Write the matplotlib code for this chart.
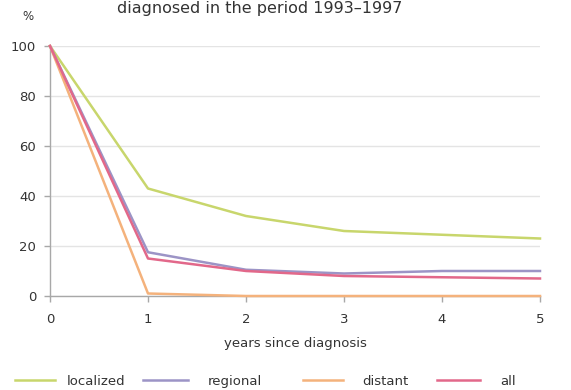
import matplotlib.pyplot as plt
from matplotlib.lines import Line2D

plt.rcParams['font.family'] = ['DejaVu Sans']

years = [0, 1, 2, 3, 4, 5]
localized = [100, 43, 32, 26, 24.5, 23]
regional = [100, 17.5, 10.5, 9, 10, 10]
distant = [100, 1, 0, 0, 0, 0]
all_stages = [100, 15, 10, 8, 7.5, 7]

series = [
    ("localized", localized, "#c8d66c"),
    ("regional", regional, "#9c94c6"),
    ("distant", distant, "#f4b27c"),
    ("all", all_stages, "#e2688a"),
]
# legend layout in pixels: line start, line end, text start
legend_pos = [(15, 55, 67), (143, 188, 208), (303, 343, 362), (437, 480, 500)]

W, H = 571, 390
fig = plt.figure(figsize=(W / 100, H / 100), dpi=100)
ax = fig.add_axes([50 / W, 1 - 296 / H, 490 / W, 250 / H])

for name, vals, col in series:
    ax.plot(years, vals, color=col, lw=1.8, clip_on=False, zorder=3)

ax.set_xlim(0, 5)
ax.set_ylim(0, 100)
ax.set_yticks([0, 20, 40, 60, 80, 100])
ax.set_xticks(years)
ax.grid(axis='y', color='#e4e4e4', lw=1)
ax.set_axisbelow(True)

for s in ['top', 'right']:
    ax.spines[s].set_visible(False)
for s in ['left', 'bottom']:
    ax.spines[s].set_color('#a8a8a8')
    ax.spines[s].set_linewidth(1)

ax.tick_params(axis='both', colors='#a8a8a8', labelcolor='#333333',
               labelsize=9.5, length=4, width=1)
ax.tick_params(axis='x', pad=8)
ax.tick_params(axis='y', pad=6)

ax.set_xlabel("years since diagnosis", fontsize=9.5, color='#333333', labelpad=8)
fig.text(28 / W, 1 - 17 / H, "%", fontsize=8.5, color='#333333', ha='center', va='center')
fig.text(260 / W, 1 - 9 / H, "diagnosed in the period 1993\u20131997", fontsize=11.5,
         color='#333333', ha='center', va='center')

ly = 1 - 380 / H
for (name, _, col), (x0, x1, xt) in zip(series, legend_pos):
    fig.add_artist(Line2D([x0 / W, x1 / W], [ly, ly], color=col, lw=1.8,
                          transform=fig.transFigure))
    fig.text(xt / W, ly, name, fontsize=9.5, color='#333333',
             ha='left', va='center_baseline')

fig.savefig("out.png", dpi=100)
